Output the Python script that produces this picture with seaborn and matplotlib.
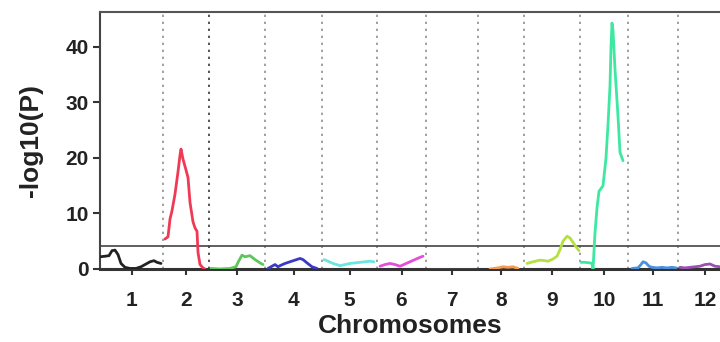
import numpy as np
import pandas as pd
import matplotlib
matplotlib.use("Agg")
import matplotlib.pyplot as plt
import seaborn as sns

# ---- data ----
chrom_names = ["1", "2", "3", "4", "5", "6", "7", "8", "9", "10", "11", "12"]
chrom_len = [63, 46, 56, 57, 55, 49, 52, 46, 56, 48, 50, 54]
threshold = 4.1

pos1 = [0, 5, 9, 12, 15, 18, 21, 25, 30, 36, 41, 46, 50, 54, 57, 61]
val1 = [2.2, 2.3, 2.4, 3.3, 3.4, 2.6, 1.0, 0.3, 0.1, 0.1, 0.4, 0.9, 1.3, 1.5, 1.2, 1.0]
pos2 = [2, 5, 7, 9, 12, 15, 17, 18, 20, 22, 25, 27, 30, 32, 34, 35, 37, 40, 42]
val2 = [5.4, 5.8, 9.0, 10.5, 13.5, 17.5, 20.5, 21.6, 19.8, 18.5, 16.5, 12.0, 8.5, 7.4, 6.8, 3.0, 0.8, 0.2, 0.0]
pos3 = [2, 11, 21, 27, 29, 33, 36, 41, 46, 51, 54]
val3 = [0.1, 0.0, 0.1, 0.4, 1.2, 2.5, 2.2, 2.4, 1.7, 1.1, 0.8]
pos4 = [3, 7, 10, 13, 15, 20, 25, 30, 35, 38, 42, 47, 52]
val4 = [0.1, 0.5, 0.8, 0.4, 0.6, 1.0, 1.3, 1.6, 1.9, 1.7, 1.1, 0.4, 0.1]
pos5 = [2, 6, 11, 18, 23, 28, 33, 38, 43, 48, 52]
val5 = [1.7, 1.4, 1.0, 0.6, 0.8, 1.0, 1.1, 1.2, 1.3, 1.4, 1.3]
pos6 = [3, 8, 13, 18, 23, 28, 33, 38, 43, 46]
val6 = [0.5, 0.8, 1.0, 0.8, 0.5, 0.9, 1.3, 1.7, 2.1, 2.3]
pos7 = [2, 20, 40, 50]
val7 = [0.05, 0.05, 0.05, 0.05]
pos8 = [12, 20, 25, 30, 35, 40]
val8 = [0.0, 0.2, 0.4, 0.3, 0.4, 0.1]
pos9 = [3, 9, 16, 21, 24, 29, 33, 36, 39, 43, 46, 49, 52, 55]
val9 = [1.0, 1.3, 1.6, 1.5, 1.4, 1.8, 2.3, 3.5, 5.0, 5.9, 5.6, 4.8, 4.0, 3.3]
pos10 = [1, 5, 10, 12, 13, 15, 17, 19, 23, 26, 28, 30, 31, 32, 33, 35, 38, 40, 43]
val10 = [1.2, 1.2, 1.1, 1.0, 0.0, 6.5, 11.0, 14.0, 15.0, 20.0, 26.0, 33.0, 40.0, 44.3, 43.0, 36.0, 27.5, 21.0, 19.5]
pos11 = [4, 10, 13, 15, 18, 21, 24, 29, 34, 39, 44, 48]
val11 = [0.1, 0.2, 0.8, 1.3, 1.1, 0.5, 0.3, 0.2, 0.3, 0.2, 0.3, 0.2]
pos12 = [2, 7, 12, 17, 22, 27, 32, 37, 42, 47]
val12 = [0.3, 0.2, 0.3, 0.4, 0.5, 0.8, 0.9, 0.5, 0.4, 0.3]

positions = [pos1, pos2, pos3, pos4, pos5, pos6, pos7, pos8, pos9, pos10, pos11, pos12]
values = [val1, val2, val3, val4, val5, val6, val7, val8, val9, val10, val11, val12]

colors = ["#222222", "#f03a55", "#5cc65c", "#3a3ac8", "#6ee4e0", "#e050d8",
          "#444444", "#f59a50", "#b4e040", "#3de8a0", "#4a90e0", "#9a50b0"]

starts = np.concatenate([[0], np.cumsum(chrom_len)[:-1]])
centers = starts + np.array(chrom_len) / 2.0

rows = []
for name, s, p, v in zip(chrom_names, starts, positions, values):
    for pp, vv in zip(p, v):
        rows.append((name, s + pp, vv))
df = pd.DataFrame(rows, columns=["chrom", "pos", "logp"])

# ---- plot ----
sns.set_style("ticks")
plt.rcParams["font.family"] = ["Liberation Sans", "DejaVu Sans"]
plt.rcParams["font.weight"] = "bold"

fig = plt.figure(figsize=(7.2, 3.42), dpi=100)
ax = fig.add_axes([100 / 720, 1 - 269 / 342, 620 / 720, 257 / 342])

for i, b in enumerate(starts[1:]):
    ax.axvline(b, color="#555555" if i == 1 else "#a0a0a0", linestyle=(0, (1.2, 2.4)),
               linewidth=1.4, zorder=1)

ax.axhline(threshold, color="#444444", linewidth=1.2, zorder=2)

sns.lineplot(data=df, x="pos", y="logp", hue="chrom", hue_order=chrom_names,
             palette=colors, sort=False, estimator=None, linewidth=2.0,
             legend=False, ax=ax, zorder=3)

ax.set_xlim(0, 620)
ax.set_ylim(0, 46.3)
ax.set_xticks(centers)
ax.set_xticklabels(chrom_names)
ax.set_yticks([0, 10, 20, 30, 40])
ax.tick_params(axis="both", labelsize=15, direction="out", width=1.5, color="#333333")
ax.tick_params(axis="x", length=4, pad=12)
ax.tick_params(axis="y", length=5, pad=3)
for lab in ax.get_xticklabels() + ax.get_yticklabels():
    lab.set_fontweight("bold")
    lab.set_color("#222222")

ax.set_xlabel("Chromosomes", fontsize=19, fontweight="bold", color="#222222", labelpad=3)
ax.set_ylabel("-log10(P)", fontsize=19, fontweight="bold", color="#222222", labelpad=16)

ax.spines["right"].set_visible(False)
ax.spines["top"].set_visible(True)
ax.spines["top"].set_color("#555555")
ax.spines["top"].set_linewidth(1.5)
ax.spines["left"].set_color("#444444")
ax.spines["left"].set_linewidth(1.5)
ax.spines["bottom"].set_color("#333333")
ax.spines["bottom"].set_linewidth(2.2)

fig.savefig("out.png", dpi=100)
